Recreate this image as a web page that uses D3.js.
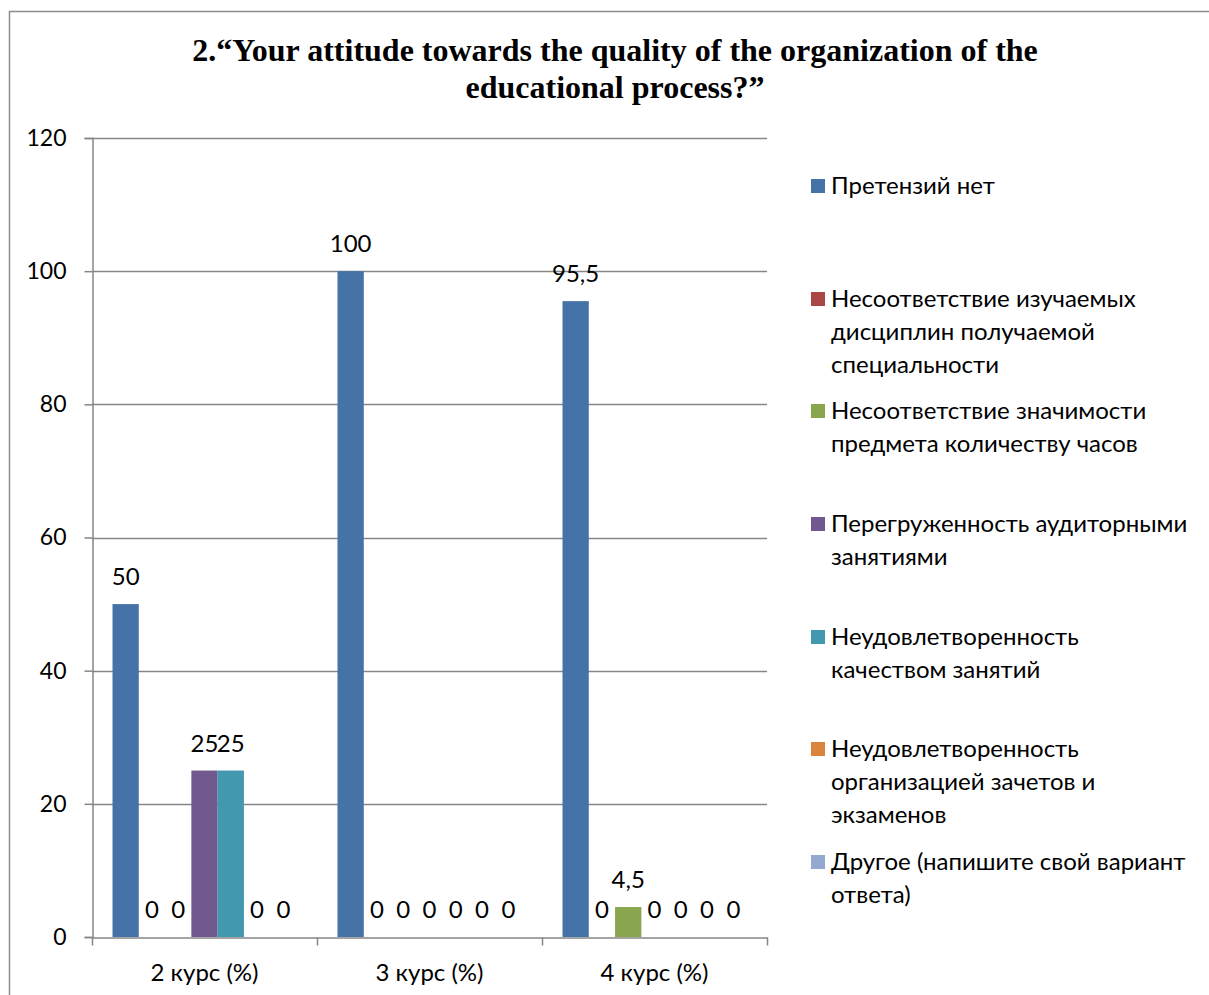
<!DOCTYPE html>
<html lang="ru">
<head>
<meta charset="UTF-8">
<title>Quality of the educational process</title>
<script src="https://d3js.org/d3.v7.min.js"></script>
<style>
    body { margin: 0; background: #fff; }
    text { font-family: Lato, "Open Sans", sans-serif; fill: #000; }
</style>
</head>
<body>
<div id="chart"></div>
<script>
    const courses = ["2 курс (%)", "3 курс (%)", "4 курс (%)"];
    const seriesNames = [
        "Претензий нет",
        "Несоответствие изучаемых дисциплин получаемой специальности",
        "Несоответствие значимости предмета количеству часов",
        "Перегруженность аудиторными занятиями",
        "Неудовлетворенность качеством занятий",
        "Неудовлетворенность организацией зачетов и экзаменов",
        "Другое (напишите свой вариант ответа)"
    ];
    // legend lines as wrapped in the picture
    const legendLines = [
        ["Претензий нет"],
        ["Несоответствие изучаемых", "дисциплин получаемой", "специальности"],
        ["Несоответствие значимости", "предмета количеству часов"],
        ["Перегруженность аудиторными", "занятиями"],
        ["Неудовлетворенность", "качеством занятий"],
        ["Неудовлетворенность", "организацией зачетов и", "экзаменов"],
        ["Другое (напишите свой вариант", "ответа)"]
    ];
    // values[series][course]
    const values = [
        [50, 100, 95.5],
        [0, 0, 0],
        [0, 0, 4.5],
        [25, 0, 0],
        [25, 0, 0],
        [0, 0, 0],
        [0, 0, 0]
    ];
    const colors = ["#4572A7", "#AA4643", "#89A54E", "#71588F", "#4198AF", "#DB843D", "#93A9CF"];
    const yTicks = [0, 20, 40, 60, 80, 100, 120];

    const w = 1209, h = 995;
    const plotLeft = 92, plotRight = 767, plotTop = 138, plotBottom = 937;

    const svg = d3.select("#chart").append("svg")
        .attr("width", w).attr("height", h);

    // chart border
    svg.append("rect")
        .attr("x", 9.5).attr("y", 11.5)
        .attr("width", w).attr("height", h)
        .attr("fill", "none").attr("stroke", "#8c8c8c").attr("stroke-width", 1.5);

    svg.append("text")
        .attr("text-anchor", "middle")
        .style("font-family", "'Liberation Serif', 'Times New Roman', serif")
        .style("font-weight", "bold")
        .style("font-size", "32px")
        .selectAll("tspan")
        .data(["2.“Your attitude towards the quality of the organization of the", "educational process?”"])
        .join("tspan")
        .attr("x", 615)
        .attr("y", (d, i) => 61 + i * 37)
        .text(d => d);

    const x0 = d3.scaleBand().domain(courses).range([plotLeft, plotRight]);
    const x1 = d3.scaleBand().domain(d3.range(seriesNames.length))
        .range([0, x0.bandwidth()]).paddingInner(0).paddingOuter(0.78);
    const y = d3.scaleLinear().domain([0, 120]).range([plotBottom, plotTop]);

    // gridlines
    svg.append("g")
        .selectAll("line")
        .data(yTicks.slice(1))
        .join("line")
        .attr("x1", plotLeft).attr("x2", plotRight)
        .attr("y1", d => Math.round(y(d)) + 0.5).attr("y2", d => Math.round(y(d)) + 0.5)
        .attr("stroke", "#868686").attr("stroke-width", 1.5);

    // y axis
    const yAxis = d3.axisLeft(y).tickValues(yTicks).tickSize(8).tickPadding(18);
    const gy = svg.append("g")
        .attr("transform", "translate(" + (plotLeft + 0.5) + ",0)")
        .call(yAxis);
    gy.selectAll("path, line").attr("stroke", "#868686").attr("stroke-width", 1.5);
    gy.selectAll("text").style("font-size", "23px").style("font-family", "Lato, sans-serif").attr("fill", "#000");

    // bars
    const groups = svg.append("g")
        .selectAll("g")
        .data(courses)
        .join("g")
        .attr("transform", d => "translate(" + x0(d) + ",0)");

    groups.selectAll("rect")
        .data((c, ci) => values.map((s, si) => ({ si, v: s[ci] })))
        .join("rect")
        .attr("x", d => x1(d.si))
        .attr("width", x1.bandwidth())
        .attr("y", d => y(d.v))
        .attr("height", d => plotBottom - y(d.v))
        .attr("fill", d => colors[d.si]);

    groups.selectAll("text")
        .data((c, ci) => values.map((s, si) => ({ si, v: s[ci] })))
        .join("text")
        .attr("x", d => x1(d.si) + x1.bandwidth() / 2)
        .attr("y", d => y(d.v) - 19)
        .attr("text-anchor", "middle")
        .style("font-size", "24px")
        .text(d => String(d.v).replace(".", ","));

    // x axis
    const xAxis = d3.axisBottom(x0).tickSize(0).tickPadding(26);
    const gx = svg.append("g")
        .attr("transform", "translate(0," + (plotBottom + 0.5) + ")")
        .call(xAxis);
    gx.select("path").attr("stroke", "#868686").attr("stroke-width", 1.5);
    gx.selectAll("text").style("font-size", "24px").style("font-family", "Lato, sans-serif").attr("fill", "#000");
    gx.selectAll(".sep")
        .data([plotLeft, ...courses.map(c => x0(c) + x0.bandwidth())])
        .join("line")
        .attr("class", "sep")
        .attr("x1", d => d + 0.5).attr("x2", d => d + 0.5)
        .attr("y1", 0).attr("y2", 8)
        .attr("stroke", "#868686").attr("stroke-width", 1.5);

    // legend
    const legendTop = [194, 307, 419, 532, 645, 757, 870];
    const legend = svg.append("g")
        .selectAll("g")
        .data(legendLines)
        .join("g")
        .attr("transform", (d, i) => "translate(811," + legendTop[i] + ")");
    legend.append("rect")
        .attr("x", 0).attr("y", -15)
        .attr("width", 14).attr("height", 14)
        .attr("fill", (d, i) => colors[i]);
    legend.append("text")
        .style("font-size", "24px")
        .selectAll("tspan")
        .data(d => d)
        .join("tspan")
        .attr("x", 20)
        .attr("y", (d, i) => i * 33)
        .text(d => d);
</script>
</body>
</html>
